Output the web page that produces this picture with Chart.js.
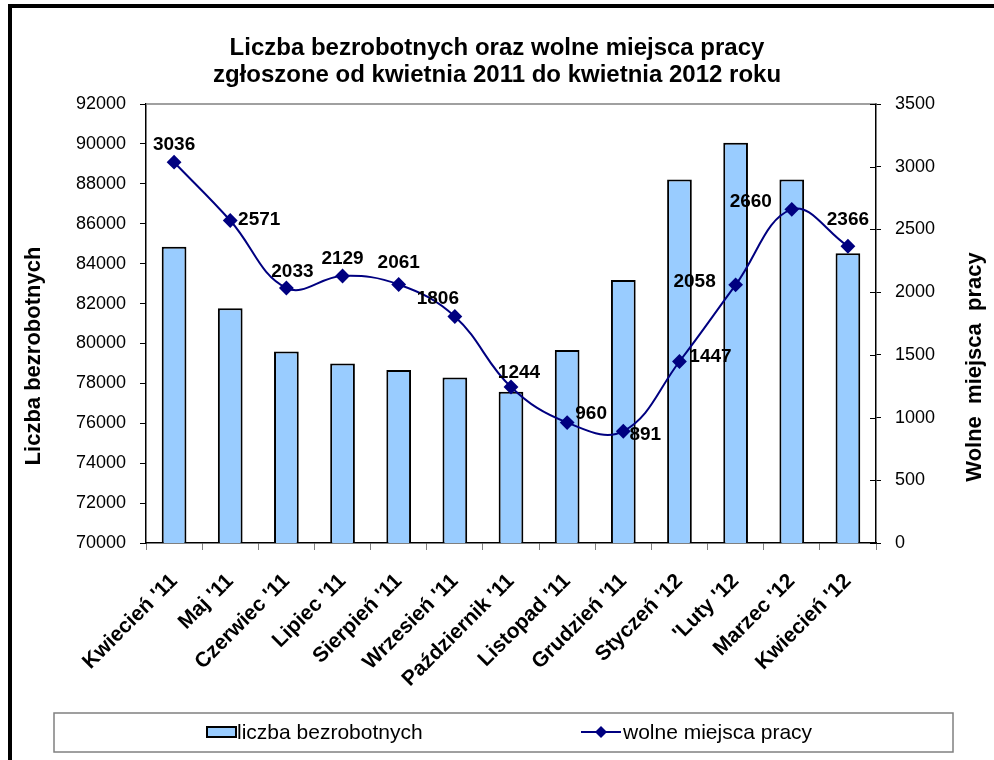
<!DOCTYPE html>
<html>
<head>
<meta charset="utf-8">
<script src="https://cdn.jsdelivr.net/npm/chart.js@4.4.1/dist/chart.umd.min.js"></script>
<style>
    html, body { margin: 0; padding: 0; background: #fff; }
    #wrap { width: 994px; height: 760px; }
</style>
</head>
<body>
<div id="wrap"><canvas id="chart" width="994" height="760"></canvas></div>
<script>
const months = ["Kwiecień '11", "Maj '11", "Czerwiec '11", "Lipiec '11", "Sierpień '11", "Wrzesień '11",
    "Październik '11", "Listopad '11", "Grudzień '11", "Styczeń '12", "'Luty '12", "Marzec '12", "Kwiecień '12"];
const unemployed = [84850, 81760, 79600, 79000, 78670, 78300, 77580, 79670, 83180, 88220, 90060, 88220, 84520];
const vacancies = [3036, 2571, 2033, 2129, 2061, 1806, 1244, 960, 891, 1447, 2058, 2660, 2366];
const leftAxis = { min: 70000, max: 92000, step: 2000 };
const rightAxis = { min: 0, max: 3500, step: 500 };

// where each value label sits relative to its point (styling, not data)
const labelOffsets = [[0, -17], [29, -1], [6, -16], [0, -17], [0, -22], [-17, -18], [8, -14],
    [24, -9], [22, 4], [31, -5], [-41, -3], [-41, -8], [0, -26]];

const FONT = "'Liberation Sans', Arial, sans-serif";
const BAR_BLUE = '#99ccff';
const NAVY = '#000080';

const decor = {
    id: 'decor',
    beforeDraw(chart) {
        const ctx = chart.ctx;
        ctx.save();
        ctx.fillStyle = '#fff';
        ctx.fillRect(0, 0, chart.width, chart.height);
        // outer frame (left and top edges only are visible)
        ctx.fillStyle = '#000';
        ctx.fillRect(8, 4, chart.width - 8, 4);
        ctx.fillRect(8, 4, 4, chart.height - 4);
        ctx.restore();
    },
    afterDatasetsDraw(chart) {
        const ctx = chart.ctx;
        const meta = chart.getDatasetMeta(0);
        ctx.save();
        ctx.font = 'bold 19px ' + FONT;
        ctx.fillStyle = '#000';
        ctx.textAlign = 'center';
        ctx.textBaseline = 'middle';
        meta.data.forEach((pt, i) => {
            const off = labelOffsets[i];
            ctx.fillText(String(vacancies[i]), pt.x + off[0], pt.y + off[1]);
        });
        ctx.restore();
    },
    afterDraw(chart) {
        const ctx = chart.ctx;
        const area = chart.chartArea;
        ctx.save();

        // top edge of the plot area
        ctx.strokeStyle = '#808080';
        ctx.lineWidth = 1.5;
        ctx.beginPath();
        ctx.moveTo(area.left, area.top);
        ctx.lineTo(area.right, area.top);
        ctx.stroke();

        // right axis ticks cross the axis line
        const yr = chart.scales.yRight;
        ctx.strokeStyle = '#000';
        ctx.lineWidth = 1;
        yr.ticks.forEach(t => {
            const y = Math.round(yr.getPixelForValue(t.value)) + 0.5;
            ctx.beginPath();
            ctx.moveTo(area.right - 6, y);
            ctx.lineTo(area.right, y);
            ctx.stroke();
        });

        // title
        ctx.fillStyle = '#000';
        ctx.textAlign = 'center';
        ctx.textBaseline = 'middle';
        ctx.font = 'bold 24px ' + FONT;
        ctx.fillText('Liczba bezrobotnych oraz wolne miejsca pracy', 497, 48);
        ctx.fillText('zgłoszone od kwietnia 2011 do kwietnia 2012 roku', 497, 75);

        // axis titles
        ctx.font = 'bold 22px ' + FONT;
        ctx.save();
        ctx.translate(34, 356);
        ctx.rotate(-Math.PI / 2);
        ctx.fillText('Liczba bezrobotnych', 0, 0);
        ctx.restore();
        ctx.save();
        ctx.translate(975, 367);
        ctx.rotate(-Math.PI / 2);
        ctx.fillText('Wolne  miejsca  pracy', 0, 0);
        ctx.restore();

        // legend box
        ctx.strokeStyle = '#808080';
        ctx.lineWidth = 1.5;
        ctx.strokeRect(54, 713, 899, 39);
        ctx.textAlign = 'left';
        ctx.font = '21px ' + FONT;
        const barSet = chart.data.datasets[1];
        const lineSet = chart.data.datasets[0];
        ctx.fillStyle = BAR_BLUE;
        ctx.fillRect(207, 727, 29, 10);
        ctx.strokeStyle = '#000';
        ctx.lineWidth = 2;
        ctx.strokeRect(207, 727, 29, 10);
        ctx.fillStyle = '#000';
        ctx.fillText(barSet.label, 237, 733);

        ctx.strokeStyle = NAVY;
        ctx.lineWidth = 2;
        ctx.beginPath();
        ctx.moveTo(581, 732);
        ctx.lineTo(621, 732);
        ctx.stroke();
        ctx.fillStyle = NAVY;
        ctx.beginPath();
        ctx.moveTo(601, 726);
        ctx.lineTo(607, 732);
        ctx.lineTo(601, 738);
        ctx.lineTo(595, 732);
        ctx.closePath();
        ctx.fill();
        ctx.fillStyle = '#000';
        ctx.fillText(lineSet.label, 623, 733);

        ctx.restore();
    }
};

new Chart(document.getElementById('chart'), {
    type: 'bar',
    data: {
        labels: months,
        datasets: [{
            type: 'line',
            label: 'wolne miejsca pracy',
            data: vacancies,
            yAxisID: 'yRight',
            borderColor: NAVY,
            borderWidth: 2,
            backgroundColor: NAVY,
            pointStyle: 'rectRot',
            pointRadius: 6,
            pointBackgroundColor: NAVY,
            pointBorderColor: NAVY,
            tension: 0.4,
            fill: false,
            order: 0
        }, {
            type: 'bar',
            label: 'liczba bezrobotnych',
            data: unemployed,
            yAxisID: 'yLeft',
            backgroundColor: BAR_BLUE,
            borderColor: '#000',
            borderWidth: 2,
            borderSkipped: false,
            categoryPercentage: 1,
            barPercentage: 0.44,
            order: 1
        }]
    },
    options: {
        responsive: false,
        animation: false,
        layout: { padding: { top: 104, left: 12, right: 0, bottom: 60 } },
        plugins: {
            legend: { display: false },
            title: { display: false },
            tooltip: { enabled: false }
        },
        scales: {
            x: {
                grid: { display: true, offset: true, drawOnChartArea: false, tickLength: 7, color: '#808080' },
                border: { display: true, color: '#000', width: 1.5 },
                ticks: {
                    minRotation: 45, maxRotation: 45, autoSkip: false, padding: 19,
                    color: '#000',
                    font: { family: FONT, size: 21, weight: 'bold' }
                },
                afterFit(scale) { scale.height = 157; }
            },
            yLeft: {
                position: 'left',
                min: leftAxis.min, max: leftAxis.max,
                grid: { drawOnChartArea: false, tickLength: 6, color: '#000' },
                border: { display: true, color: '#000', width: 1.5 },
                ticks: {
                    stepSize: leftAxis.step, padding: 14, color: '#000',
                    font: { family: FONT, size: 18 },
                    callback: v => String(v)
                },
                afterFit(scale) { scale.width = 134; }
            },
            yRight: {
                position: 'right',
                min: rightAxis.min, max: rightAxis.max,
                grid: { drawOnChartArea: false, tickLength: 5, color: '#000' },
                border: { display: true, color: '#000', width: 1.5 },
                ticks: {
                    stepSize: rightAxis.step, padding: 14, color: '#000',
                    font: { family: FONT, size: 18 },
                    callback: v => String(v)
                },
                afterFit(scale) { scale.width = 118; }
            }
        }
    },
    plugins: [decor]
});
</script>
</body>
</html>
